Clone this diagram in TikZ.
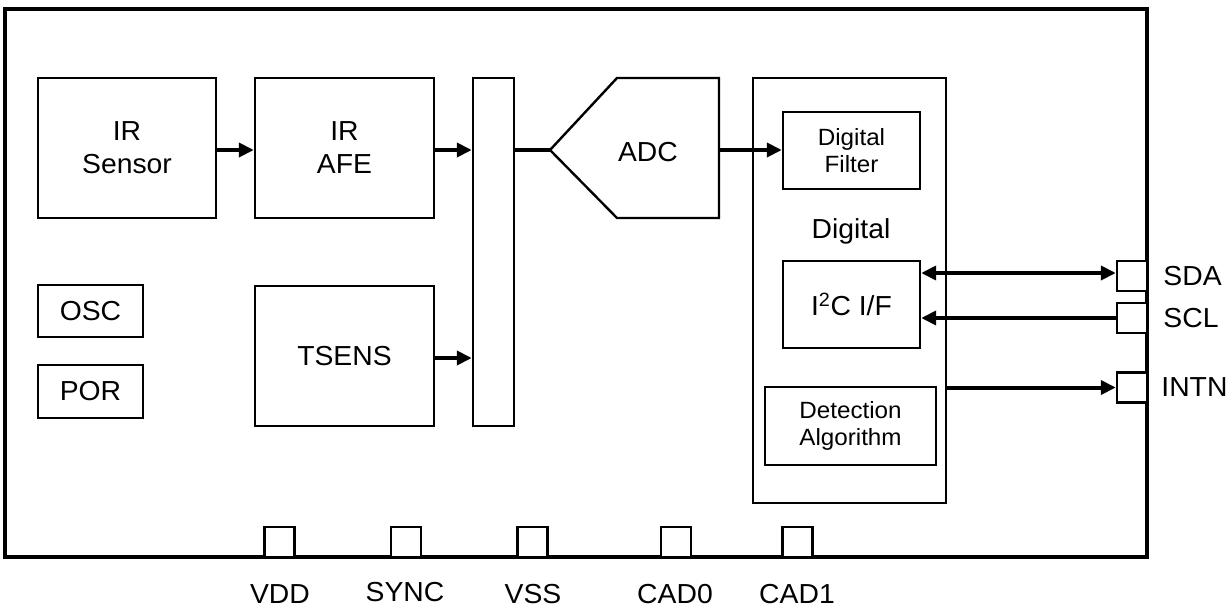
\documentclass[tikz,border=0pt]{standalone}
\usepackage{fontspec}
\setmainfont{Liberation Sans}[FakeStretch=1.03]
\usetikzlibrary{arrows.meta}
\begin{document}
\begin{tikzpicture}[x=1pt,y=-1pt,
  box/.style={draw,line width=2.4pt,rectangle,inner sep=0pt,align=center,font=\fontsize{27.5}{33}\selectfont},
  smallbox/.style={box,font=\fontsize{23.5}{27}\selectfont},
  pinbox/.style={draw,line width=2.4pt,rectangle,inner sep=0pt,minimum size=30pt,fill=white},
  pinlabel/.style={font=\fontsize{27.5}{30}\selectfont,inner sep=0pt},
  sig/.style={line width=4pt},
  arr/.style={sig,-{Triangle[length=15pt,width=14pt]}},
  darr/.style={sig,{Triangle[length=15pt,width=14pt]}-{Triangle[length=15pt,width=14pt]}}
]
\useasboundingbox (0,0) rectangle (1232,610);
% outer frame
\draw[line width=3.8pt] (5,9) rectangle (1147,557);
% analog blocks
\node[box,minimum width=178pt,minimum height=140pt] (sensor) at (127,148) {IR\\Sensor};
\node[box,minimum width=179pt,minimum height=140pt] (afe) at (344.5,148) {IR\\AFE};
\node[box,minimum width=105pt,minimum height=52pt] (osc) at (90.5,311) {OSC};
\node[box,minimum width=105pt,minimum height=53pt] (por) at (90.5,391.5) {POR};
\node[box,minimum width=179pt,minimum height=140pt] (tsens) at (344.5,356) {TSENS};
\node[box,minimum width=41pt,minimum height=348pt] (bar) at (493.5,252) {};
% ADC
\coordinate (adcin) at (550,150);
\coordinate (adcout) at (719,150);
\draw[line width=2.4pt,line join=miter] (adcin) -- (617,78) -- (719,78) -- (719,218) -- (617,218) -- cycle;
\node[font=\fontsize{27.5}{30}\selectfont] (adc) at (648,152) {ADC};
% digital
\node[box,minimum width=193pt,minimum height=425pt] (digital) at (849.5,290.5) {};
\node[smallbox,minimum width=137pt,minimum height=77pt] (filter) at (851.5,150.5) {Digital\\Filter};
\node[font=\fontsize{27.5}{30}\selectfont,anchor=base] (diglabel) at (851,238) {Digital};
\node[box,minimum width=137pt,minimum height=87pt] (i2c) at (851.5,304.5) {I\textsuperscript{2}C I/F};
\node[smallbox,minimum width=171pt,minimum height=78pt] (detect) at (850.5,426) {Detection\\Algorithm};
% side pins
\node[pinbox] (sda) at (1132,276) {};
\node[pinbox] (scl) at (1132,318) {};
\node[pinbox] (intn) at (1132,387.5) {};
\node[pinlabel,anchor=west] (sdal) at ([xshift=15pt]sda.east) {SDA};
\node[pinlabel,anchor=west] (scll) at ([xshift=15pt]scl.east) {SCL};
\node[pinlabel,anchor=west] (intnl) at ([xshift=13pt]intn.east) {INTN};
% bottom pins
\node[pinbox] (vdd) at (279.5,542) {};
\node[pinbox] (sync) at (406,542) {};
\node[pinbox] (vss) at (532.5,542) {};
\node[pinbox] (cad0) at (676,542) {};
\node[pinbox] (cad1) at (797.5,542) {};
\node[pinlabel] (vddl) at (280,594) {VDD};
\node[pinlabel] (syncl) at (405,592) {SYNC};
\node[pinlabel] (vssl) at (533,594) {VSS};
\node[pinlabel] (cad0l) at (675,594) {CAD0};
\node[pinlabel] (cad1l) at (797,594) {CAD1};
% connectors
\draw[arr] (sensor.east |- 0,150) -- (afe.west |- 0,150);
\draw[arr] (afe.east |- 0,150) -- (bar.west |- 0,150);
\draw[arr] (tsens.east |- 0,358) -- (bar.west |- 0,358);
\draw[sig] (bar.east |- adcin) -- (adcin);
\draw[arr] (adcout) -- (filter.west |- adcout);
\draw[darr] (i2c.east |- 0,273) -- (sda.west |- 0,273);
\draw[arr] (scl.west) -- (scl.west -| i2c.east);
\draw[arr] (digital.east |- intn) -- (intn.west);
\end{tikzpicture}
\end{document}
